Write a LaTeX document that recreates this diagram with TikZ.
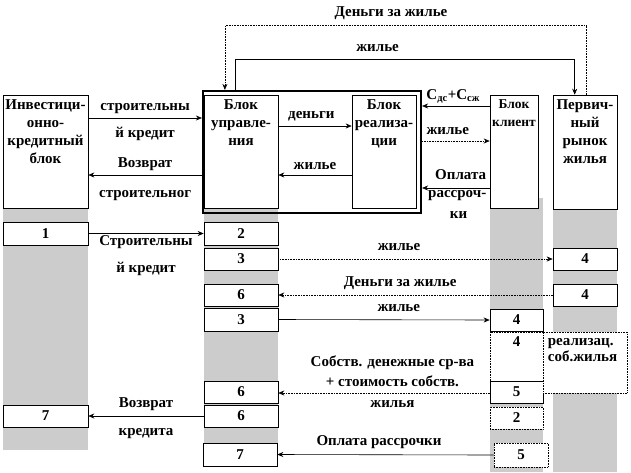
\documentclass[tikz,border=0pt]{standalone}
\usepackage{fontspec}
\setmainfont{Liberation Serif}
\usetikzlibrary{arrows.meta, positioning, calc, fit}
\definecolor{lane}{HTML}{CCCCCC}
\definecolor{ink}{HTML}{000000}

\begin{document}
\begin{tikzpicture}[
  x=1pt, y=-1pt,
  every node/.style={font=\fontsize{15}{18}\selectfont\bfseries, text=ink},
  blk/.style={draw=ink, fill=white, inner sep=0pt, line width=0.6pt},
  dblk/.style={blk, densely dotted},
  ttl/.style={anchor=north, align=center, inner sep=0pt},
  arr/.style={draw=ink, -{Stealth[length=6pt,width=5pt]}, line width=0.6pt},
  darr/.style={arr, densely dotted},
  lbl/.style={inner sep=1pt, text height=11pt, text depth=3pt},
]

% Frame
\useasboundingbox (0,0) rectangle (631,472);

% Lanes
\fill[lane] (3,208) rectangle (88,450);
\fill[lane] (204,208) rectangle (278,443);
\fill[lane] (490,198) rectangle (543,472);
\fill[lane] (553,209) rectangle (617,472);

% Management frame
\node[draw=ink, line width=2.2pt, inner sep=0pt, fit={(203,91) (421,213)}] (mgmt) {};

% Blocks
\node[blk, minimum width=85pt, minimum height=113pt] (inv) at (45.5,151.5) {};
\node[ttl] at ($(inv.north)+(0,5)$) {Инвестици-\\онно-\\кредитный\\блок};
\node[blk, minimum width=74pt, minimum height=113pt] (upr) at (241,151.5) {};
\node[ttl] at ($(upr.north)+(0,5)$) {Блок\\управле-\\ния};
\node[blk, minimum width=64pt, minimum height=113pt] (real) at (384,151.5) {};
\node[ttl] at ($(real.north)+(0,5)$) {Блок\\реализа-\\ции};
\node[blk, minimum width=48pt, minimum height=113pt] (cl) at (514,151.5) {};
\node[ttl, font=\fontsize{13.5}{18}\selectfont\bfseries] at ($(cl.north)+(0,5)$) {Блок\\клиент};
\node[blk, minimum width=64pt, minimum height=114pt] (prim) at (585,152) {};
\node[ttl] at ($(prim.north)+(0,5)$) {Первич-\\ный\\рынок\\жилья};

% Steps
\node[blk, minimum width=85pt, minimum height=23pt] (i1) at (45.5,233.5) {1};
\node[blk, minimum width=85pt, minimum height=22pt] (i7) at (45.5,416) {7};
\node[blk, minimum width=74pt, minimum height=23pt] (u2) at (241,233.5) {2};
\node[blk, minimum width=74pt, minimum height=22pt] (u3a) at (241,259) {3};
\node[blk, minimum width=74pt, minimum height=22pt] (u6a) at (241,295) {6};
\node[blk, minimum width=74pt, minimum height=23pt] (u3b) at (241,319.5) {3};
\node[blk, minimum width=74pt, minimum height=22pt] (u6b) at (241,392) {6};
\node[blk, minimum width=74pt, minimum height=22pt] (u6c) at (241,416) {6};
\node[blk, minimum width=74pt, minimum height=23pt] (u7) at (240,454.5) {7};
\node[blk, minimum width=53pt, minimum height=22pt] (c4a) at (516.5,320) {4};
\node[dblk, minimum width=53pt, minimum height=49pt] (c4b) at (516.5,356.5) {};
\node[anchor=north, inner sep=1pt] at ($(c4b.north)+(0,4)$) {4};
\node[blk, minimum width=53pt, minimum height=22pt] (c5a) at (516.5,392) {5};
\node[dblk, minimum width=53pt, minimum height=22pt] (c2) at (516.5,418) {2};
\node[dblk, minimum width=54pt, minimum height=24pt] (c5b) at (521,455) {5};
\node[dblk, minimum width=84pt, minimum height=61pt] (sreal) at (585,362.5) {};
\node[anchor=north west, align=left, inner sep=0pt, font=\fontsize{15}{16}\selectfont\bfseries]
  at ($(sreal.north west)+(5,7)$) {реализац.\\соб.жилья};
\node[blk, minimum width=64pt, minimum height=22pt] (p4a) at (585,259) {4};
\node[blk, minimum width=64pt, minimum height=22pt] (p4b) at (585,295) {4};

% Top flows
\draw[arr] ($(inv.east)+(0,-33.5)$) -- ($(mgmt.west)+(0,-34)$)
  node[lbl, midway, above=3pt] {строительны}
  node[lbl, midway, below=7pt] {й кредит};
\draw[arr] ($(mgmt.west)+(0,23)$) -- ($(inv.east)+(0,23.5)$)
  node[lbl, midway, above=3pt] {Возврат}
  node[lbl, midway, below=10pt] {строительног};
\draw[arr] ($(upr.east)+(0,-25.5)$) -- ($(real.west)+(0,-25.5)$)
  node[lbl, pos=0.45, above=3pt] {деньги};
\draw[arr] ($(real.west)+(0,23.5)$) -- ($(upr.east)+(0,23.5)$)
  node[lbl, midway, above=1pt] {жилье};
\draw[arr] ($(cl.west)+(0,-45.5)$) -- ($(mgmt.east)+(0,-46)$)
  node[lbl, pos=0.54, above=2pt] {С\textsubscript{дс}+С\textsubscript{сж}};
\draw[darr] ($(mgmt.east)+(0,-11)$) -- ($(cl.west)+(0,-10.5)$)
  node[lbl, pos=0.38, above=2pt] {жилье};
\draw[arr] ($(cl.west)+(0,36.5)$) -- ($(mgmt.east)+(0,36)$)
  node[lbl, pos=0.43, above=4pt] {Оплата}
  node[lbl, pos=0.48, below=-3pt] {рассроч-}
  node[lbl, pos=0.46, below=18pt] {ки};
\draw[darr] ($(prim.north)+(1,0)$) -- ++(0,-69)
  -| node[lbl, pos=0.27, above=5pt] {Деньги за жилье} ($(mgmt.north west)+(23,0)$);
\draw[arr] ($(mgmt.north west)+(33,0)$) -- ++(0,-31)
  -| node[lbl, pos=0.21, above=3pt] {жилье} ($(prim.north west)+(22,0)$);

% Step flows
\draw[arr] (i1.east) -- (u2.west)
  node[lbl, midway, below=0pt] {Строительны}
  node[lbl, midway, below=27pt] {й кредит};
\draw[darr] (u3a.east) -- (p4a.west)
  node[lbl, pos=0.44, above=4pt] {жилье};
\draw[darr] (p4b.west) -- (u6a.east)
  node[lbl, pos=0.556, above=4pt] {Деньги за жилье};
\draw[arr] (u3b.east) -- (c4a.west)
  node[lbl, pos=0.57, above=4pt] {жилье};
\draw[darr] ($(c5a.west)+(0,1)$) -- ($(u6b.east)+(0,1)$)
  node[lbl, pos=0.46, above=22pt] {Собств. денежные ср-ва}
  node[lbl, pos=0.46, above=2pt] {+ стоимость собств.}
  node[lbl, pos=0.46, below=2pt] {жилья};
\draw[arr] (u6c.west) -- (i7.east)
  node[lbl, midway, above=4pt] {Возврат}
  node[lbl, midway, below=7pt] {кредита};
\draw[arr] (c5b.west) -- (u7.east)
  node[lbl, pos=0.53, above=5pt] {Оплата рассрочки};

\end{tikzpicture}
\end{document}
